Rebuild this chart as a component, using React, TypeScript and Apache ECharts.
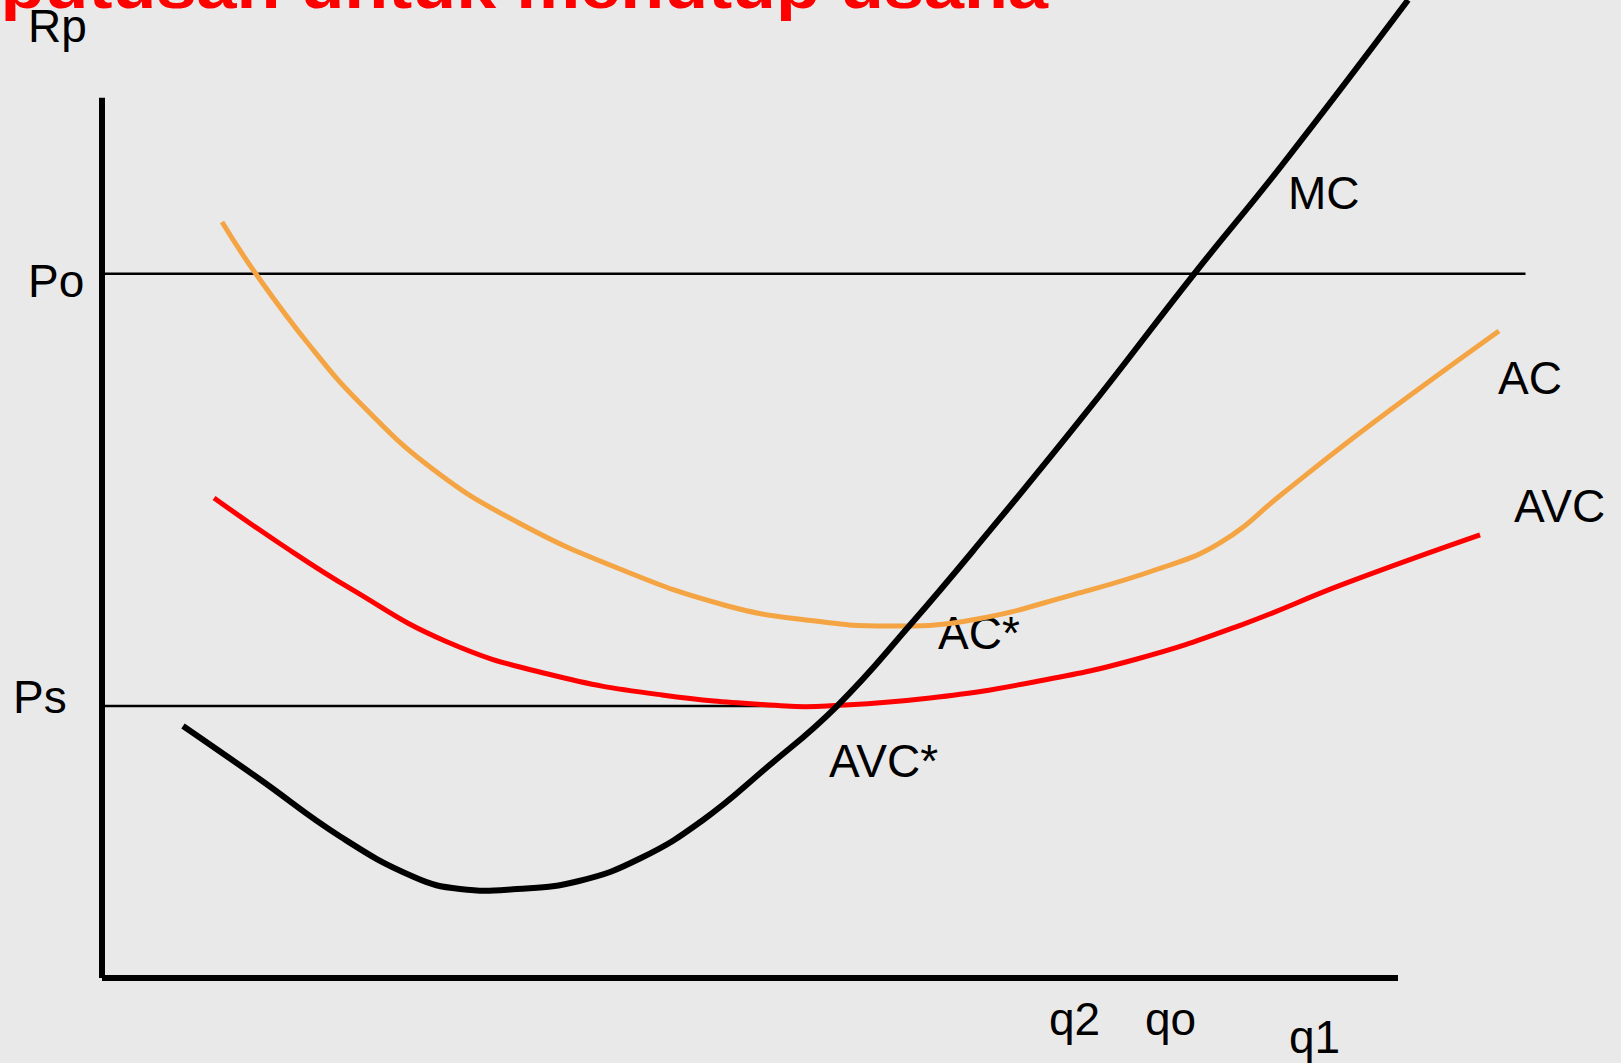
import React, { useEffect, useRef } from "react";
import * as echarts from "echarts";

// Quantities (x) and prices (y) in abstract axis units
const mcX = [5.4, 10.4, 15.93, 20.8, 23.87, 27.67, 31.8, 35.93, 40.07, 44.2, 49.0, 53.87, 58.67, 65.53, 72.8, 78.67, 87.07];
const mcY = [25.77, 20.45, 14.42, 10.33, 9.1, 9.1, 9.92, 12.27, 16.16, 21.37, 27.81, 36.09, 44.79, 57.67, 71.98, 83.13, 100];

const acX = [8.0, 10.27, 13.87, 17.33, 22.13, 27.67, 34.53, 41.47, 46.93, 52.47, 58.0, 64.87, 70.4, 74.53, 78.67, 82.8, 87.6, 93.13];
const acY = [77.3, 71.98, 64.62, 58.59, 51.94, 46.63, 41.82, 38.14, 36.61, 35.99, 36.61, 39.26, 41.82, 44.48, 49.49, 54.5, 60.02, 66.16];

const avcX = [7.47, 11.8, 16.6, 22.87, 29.73, 37.33, 45.6, 48.33, 55.2, 62.13, 69.0, 75.93, 82.8, 91.87];
const avcY = [49.08, 44.48, 39.78, 34.46, 31.08, 28.94, 27.81, 27.81, 28.63, 30.27, 32.62, 36.09, 40.29, 45.3];

const PO = 72.0;
const PS = 27.8;
const PO_END = 94.9;
const PS_END = 45.8;
const Y_AXIS_TOP = 90.0;
const X_AXIS_END = 86.4;

const TITLE = "Keputusan untuk menutup usaha";

const labels = [
  { text: "Rp", x: 28, y: 26 },
  { text: "Po", x: 28, y: 281 },
  { text: "Ps", x: 13, y: 697 },
  { text: "MC", x: 1288, y: 193 },
  { text: "AC", x: 1498, y: 378 },
  { text: "AVC", x: 1514, y: 506 },
  { text: "AC*", x: 938, y: 633 },
  { text: "AVC*", x: 829, y: 761 },
  { text: "q2", x: 1049, y: 1019 },
  { text: "qo", x: 1145, y: 1019 },
  { text: "q1", x: 1289, y: 1037 },
];

const zip = (xs: number[], ys: number[]) => xs.map((x, i) => [x, ys[i]]);

export default function App() {
  const ref = useRef<HTMLDivElement>(null);
  useEffect(() => {
    document.body.style.margin = "0";
    document.body.style.overflow = "hidden";
    if (!ref.current) return;
    const chart = echarts.init(ref.current, undefined, { renderer: "svg" });

    const font = 'bold 62px "Liberation Sans"';
    let sx = 1.3;
    const ctx = document.createElement("canvas").getContext("2d");
    if (ctx) {
      ctx.font = font;
      const wFull = ctx.measureText(TITLE).width;
      const wKe = ctx.measureText("Ke").width;
      sx = 1048 / (wFull - wKe);
    }

    const curveSeries = (name: string, data: number[][], color: string, width: number, smooth: number) => ({
      name,
      type: "custom",
      data,
      clip: false,
      silent: true,
      encode: { x: 0, y: 1 },
      renderItem: (params: any, api: any) => {
        if (params.dataIndex !== 0) return null;
        const pts = data.map((p) => api.coord(p));
        return {
          type: "polyline",
          shape: { points: pts, smooth },
          style: { stroke: color, lineWidth: width, fill: null, lineCap: "butt", lineJoin: "round" },
        };
      },
    });

    chart.setOption({
      animation: false,
      backgroundColor: "#e9e9e9",
      grid: { left: 102, top: 0, width: 1500, height: 978 },
      xAxis: { type: "value", min: 0, max: 100, show: false },
      yAxis: { type: "value", min: 0, max: 100, show: false },
      series: [
        curveSeries("Po", [[0, PO], [PO_END, PO]], "#000", 2.5, 0),
        curveSeries("Ps", [[0, PS], [PS_END, PS]], "#000", 2.5, 0),
        curveSeries("AC", zip(acX, acY), "#f4a442", 5, 0.45),
        curveSeries("AVC", zip(avcX, avcY), "#ff0000", 5, 0.45),
        curveSeries("MC", zip(mcX, mcY), "#000", 6, 0.45),
        curveSeries("yAxisLine", [[0, 0], [0, Y_AXIS_TOP]], "#000", 6, 0),
        curveSeries("xAxisLine", [[0, 0], [X_AXIS_END, 0]], "#000", 6, 0),
      ],
      graphic: [
        {
          type: "text",
          x: 1048,
          y: -14,
          scaleX: sx,
          style: {
            text: TITLE,
            fill: "#ff0000",
            font,
            align: "right",
            verticalAlign: "middle",
          },
        },
        ...labels.map((l) => ({
          type: "text",
          x: l.x,
          y: l.y,
          style: {
            text: l.text,
            fill: "#000",
            font: '46px "Liberation Sans"',
            align: "left",
            verticalAlign: "middle",
          },
        })),
      ],
    });
    return () => chart.dispose();
  }, []);
  return <div ref={ref} style={{ width: 1621, height: 1063 }} />;
}
